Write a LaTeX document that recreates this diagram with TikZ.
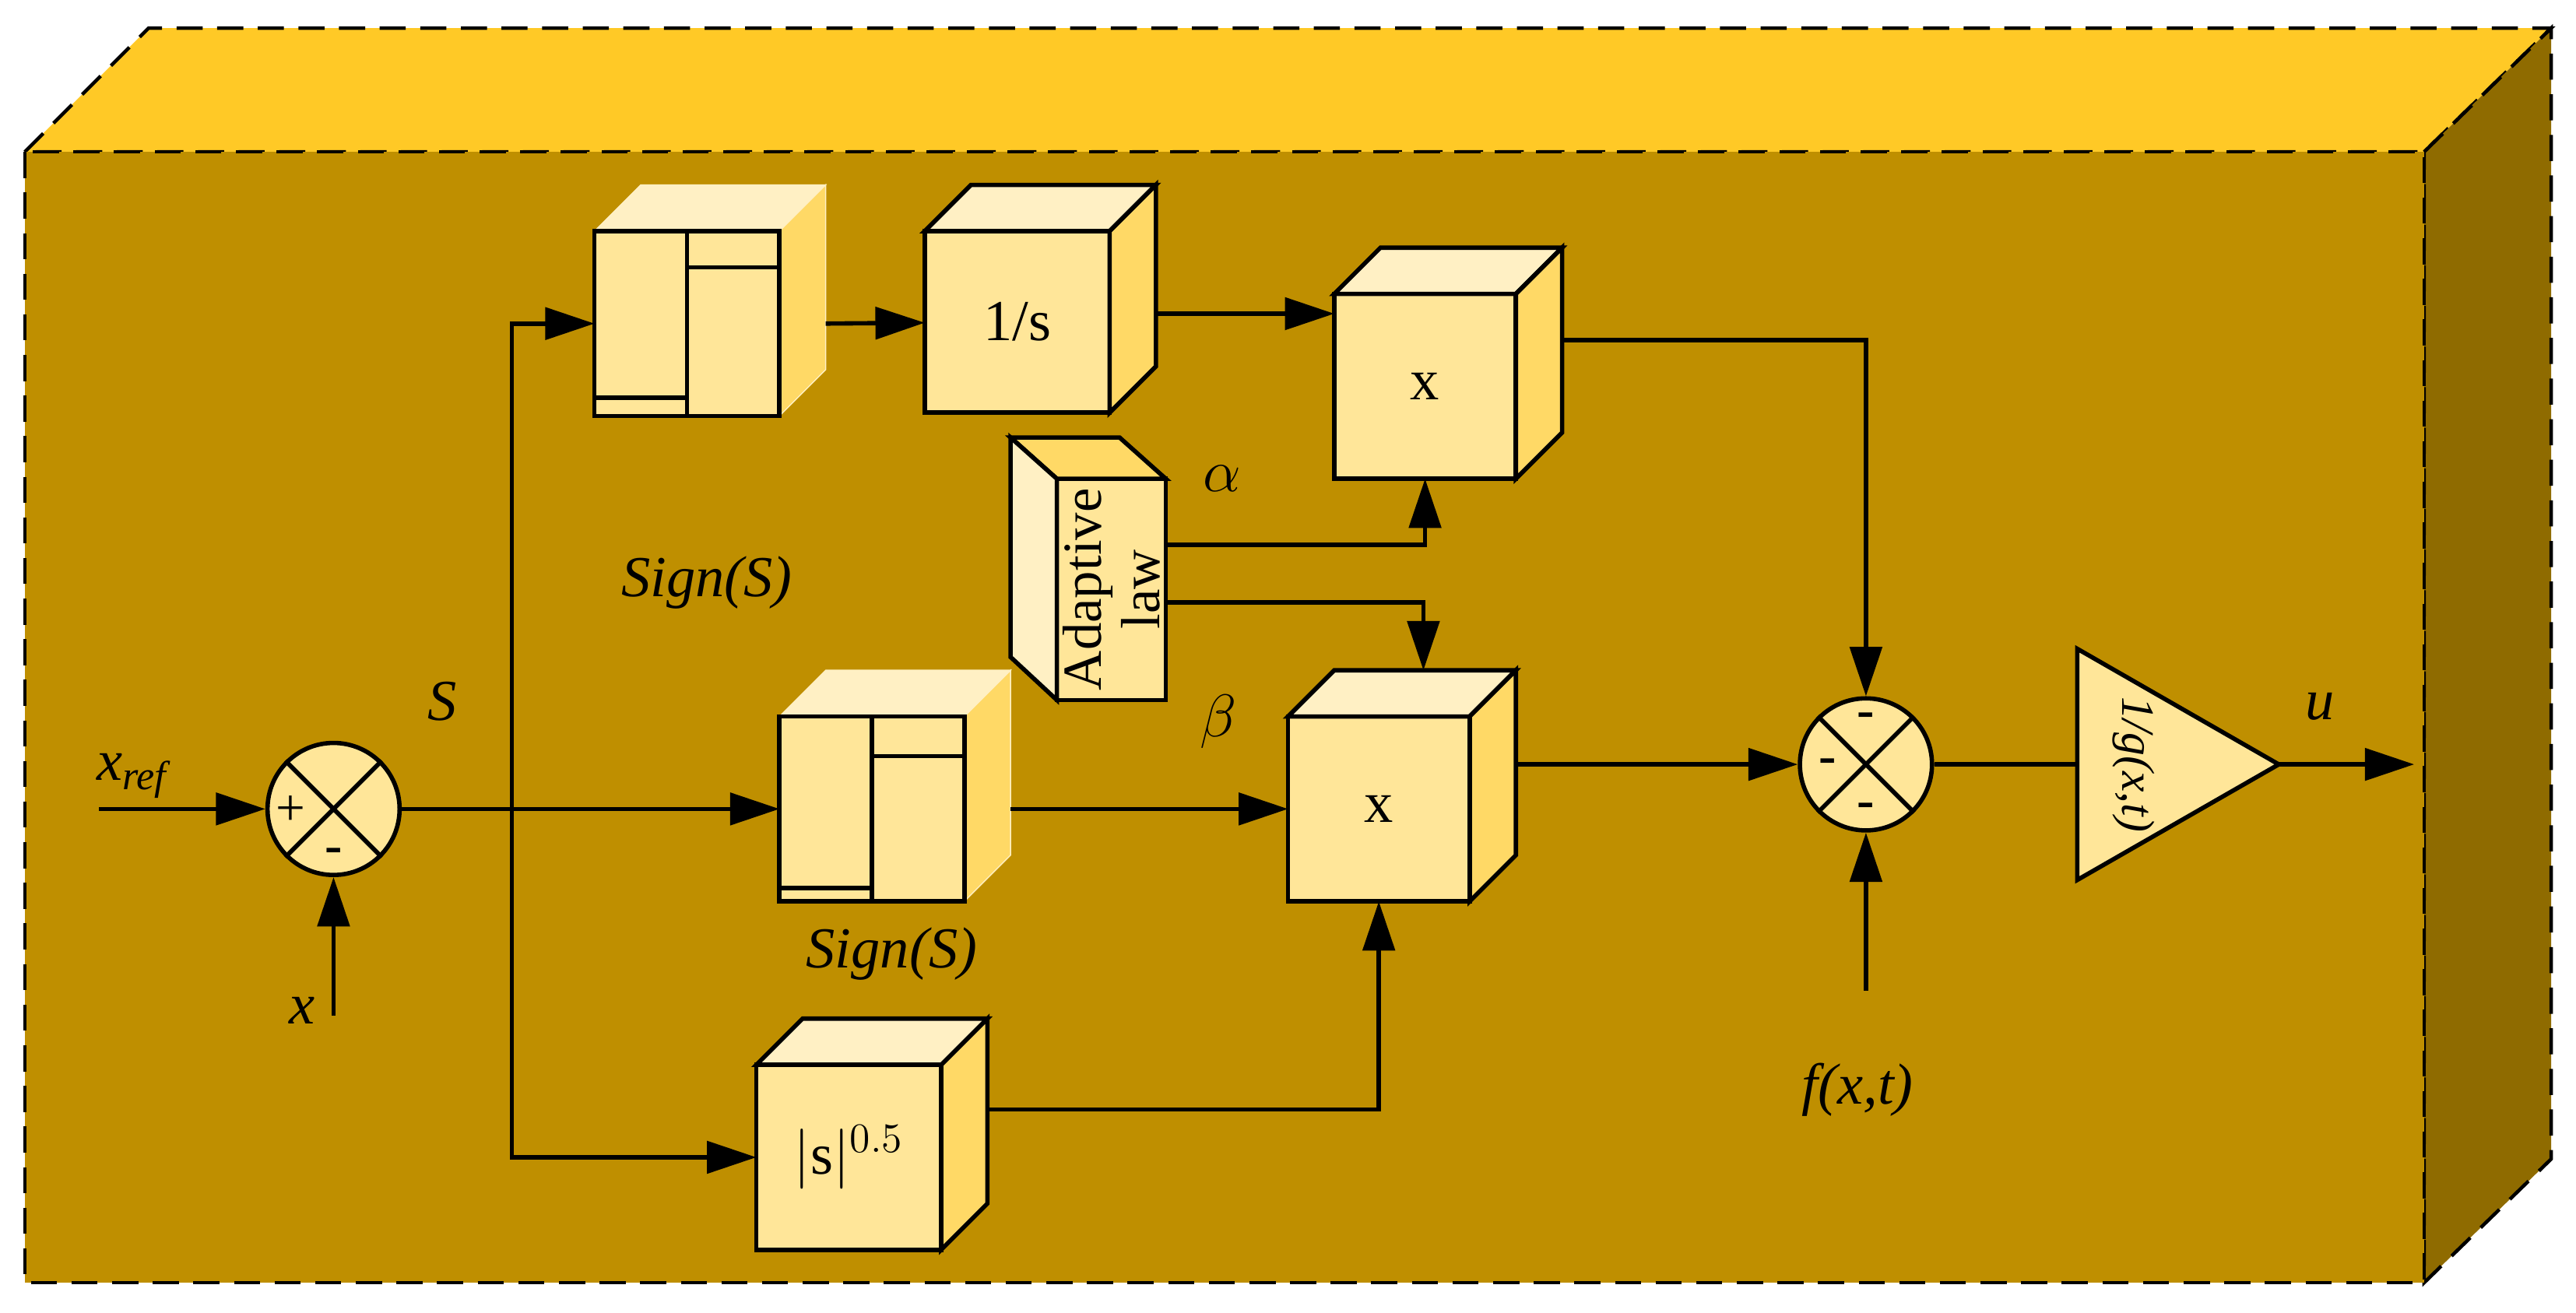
\documentclass[tikz,border=0pt]{standalone}
\usepackage{fontspec}
\setmainfont{Liberation Serif}
\usetikzlibrary{arrows.meta}
\definecolor{frontc}{HTML}{BF8F00}
\definecolor{topc}{HTML}{FFC926}
\definecolor{sidec}{HTML}{8F6B00}
\definecolor{bf}{HTML}{FFE699}
\definecolor{bt}{HTML}{FFF0C4}
\definecolor{bs}{HTML}{FFD966}
\tikzset{
 ln/.style={line width=1.5pt},
 ar/.style={ln,-{Triangle[length=17pt,width=11pt]}},
 front/.style={draw,ln,fill=bf,inner sep=0pt,outer sep=0pt,font=\fontsize{20}{24}\selectfont},
 lab/.style={font=\fontsize{20}{24}\selectfont\itshape},
 dashbord/.style={line width=1.2pt,dash pattern=on 9pt off 5pt}
}
\newcommand\mycube[7]{%
 \node[front,minimum width=#4,minimum height=#5] (#1) at (#2,#3) {#6};
 \filldraw[fill=bt,#7] (#1.north west) -- ++(28,-28) -- ([shift={(28,-28)}]#1.north east) -- (#1.north east) -- cycle;
 \filldraw[fill=bs,#7] (#1.north east) -- ++(28,-28) -- ([shift={(28,-28)}]#1.south east) -- (#1.south east) -- cycle;
 \draw[ln] (#1.north west) rectangle (#1.south east);
}
\begin{document}
\begin{tikzpicture}[x=0.02cm,y=-0.02cm]
\fill[white] (0,0) rectangle (1560,795);
% housing
\filldraw[fill=topc,dashbord] (15,92) -- (90,17) -- (1545,17) -- (1468,92) -- cycle;
\filldraw[fill=sidec,dashbord] (1468,92) -- (1545,17) -- (1545,702) -- (1468,777) -- cycle;
\filldraw[fill=frontc,dashbord] (15,92) rectangle (1468,777);
% blocks
\mycube{sg1}{416}{196}{2.24cm}{2.24cm}{}{draw=bt,line width=0.4pt}
\draw[ln] (416,140) -- (416,252) (416,162) -- (472,162) (360,241) -- (416,241);
\mycube{int}{616}{195}{2.24cm}{2.2cm}{1/s}{draw=black,ln}
\mycube{mt}{863}{234}{2.2cm}{2.24cm}{x}{draw=black,ln}
\mycube{sg2}{528}{490}{2.24cm}{2.24cm}{}{draw=bt,line width=0.4pt}
\draw[ln] (528,434) -- (528,546) (528,458) -- (584,458) (472,538) -- (528,538);
\mycube{mm}{835}{490}{2.2cm}{2.24cm}{x}{draw=black,ln}
\mycube{abs}{514}{701}{2.24cm}{2.24cm}{$|$s$|^{0.5}$}{draw=black,ln}
% adaptive law
\node[front,minimum width=1.32cm,minimum height=2.68cm] (ad) at (673,357) {};
\filldraw[fill=bs,ln] (612,265) -- (678,265) -- (706,290) -- (640,290) -- cycle;
\filldraw[fill=bt,ln] (612,265) -- (640,290) -- (640,424) -- (612,398) -- cycle;
\node[rotate=90,align=center,font=\fontsize{19}{20}\selectfont] at (673,357) {Adaptive\\law};
% summers
\node[draw,ln,fill=bf,circle,minimum size=1.6cm,inner sep=0pt] (s1) at (202,490) {};
\draw[ln] (s1.45) -- (s1.225) (s1.135) -- (s1.315);
\node[font=\fontsize{18}{20}\selectfont] at (176,491) {+};
\node[font=\fontsize{18}{20}\selectfont\bfseries] at (202,518) {-};
\node[draw,ln,fill=bf,circle,minimum size=1.6cm,inner sep=0pt] (s2) at (1130,463) {};
\draw[ln] (s2.45) -- (s2.225) (s2.135) -- (s2.315);
\node[font=\fontsize{18}{20}\selectfont\bfseries] at (1130,436) {-};
\node[font=\fontsize{18}{20}\selectfont\bfseries] at (1107,464) {-};
\node[font=\fontsize{18}{20}\selectfont\bfseries] at (1130,491) {-};
% gain
\coordinate (gin) at (1258,463);
\coordinate (gout) at (1380,463);
\filldraw[fill=bf,ln] (1258,393) -- (gout) -- (1258,533) -- cycle;
\node[rotate=-90,font=\fontsize{16}{18}\selectfont\itshape] at (1292,463) {1/g(x,t)};
% terminals
\coordinate (xr) at (60,490);
\coordinate (xin) at (202,615);
\coordinate (br) at (310,490);
\coordinate (fin) at (1130,600);
\coordinate (uo) at (1462,463);
% connectors
\draw[ar] (xr) -- (s1);
\draw[ar] (xin) -- (s1);
\draw[ar] (s1) -- (sg2);
\draw[ar] (br) |- (sg1);
\draw[ar] (br) |- (abs);
\draw[ar] ([xshift=0.56cm]sg1.east) -- (int);
\draw[ar] ([xshift=0.56cm]int.east |- 0,190) -- (mt.west |- 0,190);
\draw[ar] (ad.east |- 0,330) -| (mt.south);
\draw[ar] (ad.east |- 0,365) -| (862,406);
\draw[ar] ([xshift=0.56cm]sg2.east) -- (mm);
\draw[ar] ([xshift=0.56cm]abs.east |- 0,672) -| (mm.south);
\draw[ar] ([xshift=0.56cm]mt.east |- 0,206) -| (s2.north);
\draw[ar] ([xshift=0.56cm]mm.east |- 0,463) -- (s2);
\draw[ar] (fin) -- (s2);
\draw[ln] (s2) -- (gin);
\draw[ar] (gout) -- (uo);
% labels
\node[lab] at (80,470) {x\textsubscript{ref}};
\node[lab] at (183,612) {x};
\node[lab] at (268,425) {S};
\node[lab] at (428,353) {Sign(S)};
\node[lab] at (540,578) {Sign(S)};
\node[lab] at (740,290) {$\alpha$};
\node[lab] at (738,437) {$\beta$};
\node[lab] at (1125,660) {f(x,t)};
\node[lab] at (1405,428) {u};
\end{tikzpicture}
\end{document}
